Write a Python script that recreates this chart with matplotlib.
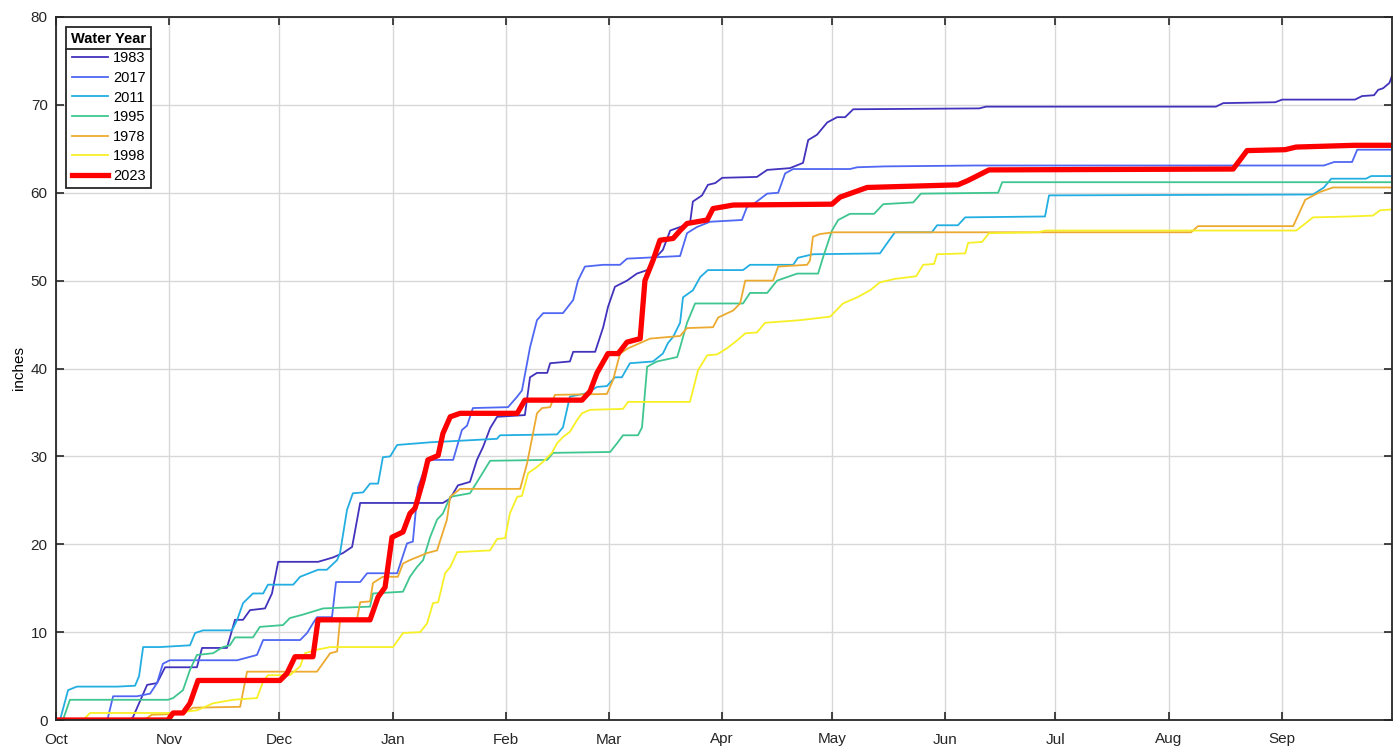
import numpy as np
import matplotlib
matplotlib.use("Agg")
import matplotlib.pyplot as plt
from matplotlib.lines import Line2D

plt.rcParams['font.family'] = ['Liberation Sans', 'DejaVu Sans']

# cumulative precipitation, (day of water year, inches)
wy1983 = [(0, 0), (20.2, 0), (21.0, 0.3), (24.9, 4.0), (27.6, 4.2), (29.8, 6.0), (38.5, 6.0), (39.9, 8.2),
          (46.7, 8.2), (48.9, 11.4), (51.1, 11.4), (53.0, 12.5), (57.1, 12.7), (59.0, 14.4), (60.7, 18.0),
          (71.6, 18.0), (75.7, 18.5), (78.4, 19.0), (80.9, 19.7), (83.1, 24.7), (105.7, 24.7), (107.7, 25.2),
          (109.8, 26.7), (113.1, 27.1), (115.0, 29.6), (116.7, 31.1), (118.6, 33.2), (120.5, 34.5),
          (128.1, 34.7), (129.5, 39.0), (131.4, 39.5), (134.2, 39.5), (135.0, 40.6), (140.4, 40.8),
          (141.3, 41.9), (147.3, 41.9), (149.5, 44.7), (150.8, 47.0), (152.7, 49.3), (156.0, 50.0),
          (158.7, 50.8), (161.5, 51.2), (163.1, 52.3), (165.8, 53.5), (167.8, 55.7), (170.5, 56.1),
          (173.2, 56.5), (174.0, 59.0), (176.5, 59.7), (178.1, 60.9), (180.1, 61.1), (182.0, 61.7),
          (191.5, 61.8), (194.3, 62.6), (200.5, 62.8), (204.1, 63.4), (205.5, 66.0), (207.9, 66.6),
          (210.7, 68.0), (213.4, 68.6), (215.6, 68.6), (217.8, 69.5), (252.2, 69.6), (254.1, 69.8),
          (316.9, 69.8), (318.9, 70.2), (333.1, 70.3), (335.0, 70.6), (354.9, 70.6), (356.8, 71.0),
          (360.1, 71.1), (361.2, 71.7), (362.6, 71.9), (364.3, 72.5), (365, 73.3)]

wy2017 = [(0, 0), (13.9, 0), (14.2, 0.3), (15.6, 2.7), (22.1, 2.7), (25.7, 3.0), (27.6, 4.2), (29.2, 6.4),
          (31.1, 6.8), (49.5, 6.8), (54.9, 7.4), (56.6, 9.1), (66.7, 9.1), (68.6, 9.9), (70.2, 11.0),
          (71.3, 11.7), (75.4, 11.7), (76.5, 15.7), (83.1, 15.7), (85.0, 16.7), (93.2, 16.7), (95.9, 20.1),
          (97.5, 20.3), (98.9, 26.5), (101.6, 29.6), (108.5, 29.6), (110.9, 33.0), (112.3, 33.5),
          (113.9, 35.5), (123.5, 35.6), (126.0, 36.8), (127.3, 37.5), (129.5, 42.4), (131.4, 45.5),
          (133.1, 46.3), (138.5, 46.3), (141.3, 47.8), (142.6, 50.0), (144.5, 51.6), (149.5, 51.8),
          (154.1, 51.8), (156.0, 52.5), (170.5, 52.8), (172.4, 55.4), (175.1, 56.1), (178.7, 56.7),
          (187.4, 56.9), (188.8, 58.4), (190.2, 58.6), (194.3, 59.9), (197.3, 60.0), (199.2, 62.2),
          (201.4, 62.7), (216.9, 62.7), (218.9, 62.9), (226.5, 63.0), (251.1, 63.1), (346.4, 63.1),
          (349.2, 63.5), (354.1, 63.5), (355.5, 64.9), (365, 64.9)]

wy2011 = [(0, 0), (1.1, 0), (3.3, 3.4), (5.7, 3.8), (16.7, 3.8), (21.6, 3.9), (22.7, 5.0), (23.8, 8.3),
          (28.4, 8.3), (36.6, 8.5), (38.0, 9.9), (40.2, 10.2), (48.1, 10.2), (49.5, 11.4), (51.1, 13.3),
          (53.8, 14.4), (56.6, 14.4), (57.9, 15.4), (64.8, 15.4), (66.7, 16.3), (71.6, 17.1), (74.0, 17.1),
          (76.8, 18.2), (77.6, 19.0), (79.5, 23.9), (81.1, 25.8), (83.9, 25.9), (85.8, 26.9), (88.0, 26.9),
          (89.3, 29.9), (91.3, 30.0), (93.2, 31.3), (102.2, 31.6), (120.5, 32.0), (121.3, 32.4),
          (136.9, 32.5), (138.5, 33.3), (140.4, 36.8), (145.1, 37.2), (147.8, 37.9), (150.5, 38.0),
          (152.7, 39.0), (154.6, 39.0), (156.8, 40.6), (163.1, 40.8), (165.8, 41.7), (167.2, 42.9),
          (168.6, 43.6), (170.5, 45.2), (171.3, 48.1), (174.0, 48.9), (176.0, 50.4), (178.1, 51.2),
          (187.7, 51.2), (189.6, 51.8), (201.4, 51.8), (202.7, 52.6), (206.8, 53.0), (225.1, 53.1),
          (227.3, 54.4), (229.2, 55.5), (239.3, 55.5), (240.7, 56.3), (246.4, 56.3), (248.4, 57.2),
          (270.2, 57.3), (271.3, 59.7), (343.4, 59.8), (346.4, 60.6), (348.4, 61.6), (357.9, 61.6),
          (359.3, 61.9), (365, 61.9)]

wy1995 = [(0, 0), (1.9, 0), (3.8, 2.3), (30.6, 2.3), (32.0, 2.5), (34.7, 3.4), (36.6, 5.7), (38.5, 7.4),
          (42.9, 7.6), (45.6, 8.3), (47.5, 8.5), (48.9, 9.4), (53.8, 9.4), (55.7, 10.6), (62.0, 10.8),
          (63.9, 11.6), (67.5, 12.0), (73.0, 12.7), (85.8, 12.9), (86.6, 14.4), (94.8, 14.6), (96.7, 16.3),
          (98.6, 17.4), (100.3, 18.2), (102.2, 20.8), (104.1, 22.8), (105.7, 23.5), (107.7, 25.4),
          (113.1, 25.8), (115.8, 27.6), (118.6, 29.5), (134.2, 29.6), (135.8, 30.4), (151.4, 30.5),
          (153.3, 31.5), (154.9, 32.4), (159.0, 32.4), (160.1, 33.3), (161.5, 40.2), (164.2, 40.8),
          (169.7, 41.3), (170.5, 42.4), (172.4, 45.2), (174.6, 47.4), (187.7, 47.4), (189.6, 48.6),
          (194.3, 48.6), (197.0, 50.0), (202.5, 50.8), (208.2, 50.8), (209.6, 52.7), (212.0, 55.7),
          (213.7, 56.9), (216.9, 57.6), (223.5, 57.6), (226.0, 58.7), (234.2, 58.9), (236.3, 59.9),
          (257.4, 60.0), (258.5, 61.2), (365, 61.2)]

wy1978 = [(0, 0), (24.0, 0), (26.2, 0.6), (34.7, 0.7), (37.4, 1.4), (50.3, 1.5), (52.2, 5.5), (71.3, 5.5),
          (74.9, 7.6), (76.8, 7.8), (77.6, 11.4), (82.2, 11.4), (83.1, 13.4), (85.8, 13.5), (86.6, 15.6),
          (89.3, 16.3), (93.4, 16.3), (94.8, 17.8), (96.7, 18.2), (101.4, 19.0), (104.1, 19.3),
          (106.8, 22.8), (107.7, 25.4), (110.4, 26.3), (126.8, 26.3), (128.7, 29.2), (131.4, 34.9),
          (132.8, 35.5), (135.0, 35.6), (136.3, 37.0), (150.5, 37.1), (152.2, 38.7), (154.1, 41.7),
          (156.3, 42.3), (159.6, 42.9), (162.3, 43.4), (170.5, 43.7), (172.4, 44.6), (179.5, 44.7),
          (180.9, 45.8), (185.0, 46.6), (186.9, 47.4), (188.3, 50.0), (195.9, 50.0), (197.3, 51.6),
          (205.2, 51.8), (206.0, 52.3), (206.8, 55.0), (208.7, 55.3), (212.3, 55.5), (310.1, 55.5),
          (312.0, 56.2), (338.0, 56.2), (341.3, 59.2), (345.4, 60.1), (348.9, 60.6), (365, 60.6)]

wy1998 = [(0, 0), (7.4, 0), (9.3, 0.8), (32.0, 0.8), (38.5, 1.1), (42.9, 1.9), (48.4, 2.3), (54.9, 2.5),
          (56.6, 4.4), (57.9, 5.1), (63.9, 5.1), (66.7, 6.1), (68.0, 7.6), (71.3, 8.0), (74.9, 8.3),
          (92.1, 8.3), (94.8, 9.9), (99.5, 10.0), (101.4, 11.0), (103.0, 13.3), (104.4, 13.4),
          (106.3, 16.7), (107.7, 17.4), (109.6, 19.1), (118.6, 19.3), (120.5, 20.6), (122.7, 20.7),
          (124.0, 23.5), (126.0, 25.4), (127.3, 25.5), (129.0, 28.1), (131.4, 28.8), (133.1, 29.4),
          (135.5, 30.4), (136.9, 31.5), (138.5, 32.2), (140.4, 32.8), (142.3, 34.1), (143.7, 34.9),
          (145.9, 35.3), (154.9, 35.4), (156.3, 36.2), (173.2, 36.2), (175.4, 39.8), (177.9, 41.5),
          (180.6, 41.6), (183.3, 42.3), (186.1, 43.2), (188.3, 44.0), (191.5, 44.1), (193.7, 45.2),
          (203.3, 45.5), (211.5, 45.9), (215.0, 47.4), (218.9, 48.1), (222.4, 48.9), (225.1, 49.8),
          (229.2, 50.2), (235.0, 50.5), (236.9, 51.8), (239.9, 51.9), (240.7, 53.0), (248.4, 53.1),
          (249.2, 54.3), (253.0, 54.4), (254.9, 55.4), (268.3, 55.5), (270.2, 55.7), (338.8, 55.7),
          (340.7, 56.3), (343.4, 57.2), (353.6, 57.3), (359.8, 57.4), (361.7, 58.0), (365, 58.1)]

wy2023 = [(0, 0), (30.6, 0), (32.0, 0.8), (34.7, 0.8), (36.6, 1.9), (38.8, 4.5), (61.2, 4.5), (63.1, 5.3),
          (65.3, 7.2), (70.2, 7.2), (71.6, 11.4), (85.8, 11.4), (88.0, 14.0), (89.9, 15.1), (91.8, 20.8),
          (94.8, 21.4), (96.7, 23.5), (98.1, 24.1), (100.3, 27.3), (101.6, 29.6), (104.4, 30.1),
          (105.7, 32.6), (107.7, 34.5), (110.4, 34.9), (126.0, 34.9), (128.1, 36.4), (143.7, 36.4),
          (145.9, 37.4), (147.8, 39.5), (150.8, 41.7), (153.6, 41.7), (156.0, 43.0), (159.6, 43.4),
          (160.9, 50.0), (163.1, 52.3), (165.0, 54.6), (168.6, 54.8), (170.5, 55.7), (172.4, 56.5),
          (177.9, 56.9), (179.5, 58.2), (185.0, 58.6), (212.0, 58.7), (214.2, 59.5), (216.9, 59.9),
          (221.6, 60.6), (246.4, 60.9), (249.2, 61.4), (254.9, 62.6), (321.6, 62.7), (325.4, 64.8),
          (335.8, 64.9), (338.8, 65.2), (354.9, 65.4), (365, 65.4)]

years = ['1983', '2017', '2011', '1995', '1978', '1998', '2023']
series = [wy1983, wy2017, wy2011, wy1995, wy1978, wy1998, wy2023]
colors = ['#4233bd', '#4f67f2', '#23aee2', '#3fc690', '#ecab30', '#f7f027', '#ff0000']
widths = [1.3, 1.3, 1.3, 1.3, 1.3, 1.3, 3.8]

month_days = [0, 31, 61, 92, 123, 151, 182, 212, 243, 273, 304, 335]
month_labels = ['Oct', 'Nov', 'Dec', 'Jan', 'Feb', 'Mar', 'Apr', 'May', 'Jun', 'Jul', 'Aug', 'Sep']

fig = plt.figure(figsize=(13.99, 7.5), dpi=100)
ax = fig.add_axes([56 / 1399, 1 - 720 / 750, (1392 - 56) / 1399, (720 - 17) / 750])

for yr, pts, c, lw in zip(years, series, colors, widths):
    d = np.array(pts)
    ax.plot(d[:, 0], d[:, 1], color=c, lw=lw, label=yr, solid_joinstyle='round')

ax.set_xlim(0, 365)
ax.set_ylim(0, 80)
ax.set_xticks(month_days)
ax.set_xticklabels(month_labels)
ax.set_yticks(np.arange(0, 81, 10))
ax.set_ylabel('inches', fontsize=11, labelpad=3)
ax.grid(True, color='#d8d8d8', lw=1.0)
ax.set_axisbelow(True)
ax.tick_params(direction='in', length=6, width=1.2, top=True, right=True,
               labelsize=11, color='#262626', labelcolor='#262626')
ax.tick_params(axis='x', pad=9)
ax.tick_params(axis='y', pad=6)
for s in ax.spines.values():
    s.set_color('#262626')
    s.set_linewidth(1.3)

leg = ax.legend(loc='upper left', bbox_to_anchor=(0.0075, 0.986), borderaxespad=0,
                title='Water Year', fontsize=10.5, title_fontproperties={'weight': 'bold', 'size': 10.5},
                fancybox=False, edgecolor='#262626', framealpha=1, handlelength=2.5,
                handletextpad=0.3, labelspacing=0.38, borderpad=0.35)
leg.get_frame().set_linewidth(1.3)

fig.canvas.draw()
r = fig.canvas.get_renderer()
fb = leg.get_frame().get_window_extent(r)
tb = leg.get_title().get_window_extent(r)
ysep = tb.y0 - 3
inv = fig.transFigure.inverted()
(x0, y0), (x1, _) = inv.transform([(fb.x0, ysep), (fb.x1, ysep)])
fig.add_artist(Line2D([x0, x1], [y0, y0], color='#262626', lw=1.3))

fig.savefig('out.png', dpi=100)
